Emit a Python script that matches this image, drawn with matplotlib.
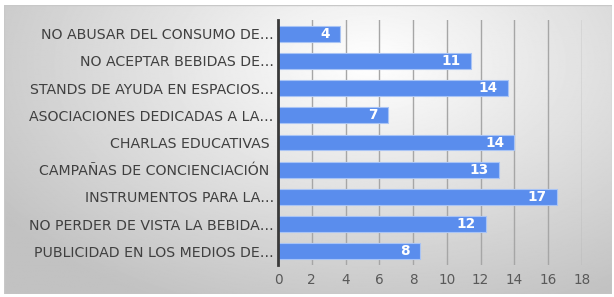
import numpy as np
import matplotlib
matplotlib.use("Agg")
import matplotlib.pyplot as plt
from matplotlib.patches import Rectangle

plt.rcParams['font.family'] = ['DejaVu Sans']

categories = [
    "NO ABUSAR DEL CONSUMO DE…",
    "NO ACEPTAR BEBIDAS DE…",
    "STANDS DE AYUDA EN ESPACIOS…",
    "ASOCIACIONES DEDICADAS A LA…",
    "CHARLAS EDUCATIVAS ",
    "CAMPAÑAS DE CONCIENCIACIÓN ",
    "INSTRUMENTOS PARA LA…",
    "NO PERDER DE VISTA LA BEBIDA…",
    "PUBLICIDAD EN LOS MEDIOS DE…",
]
# bar lengths as drawn, and the data labels shown on them
bar_len = [3.7, 11.4, 13.6, 6.5, 14.0, 13.1, 16.5, 12.3, 8.4]
counts = [4, 11, 14, 7, 14, 13, 17, 12, 8]
xticks = [0, 2, 4, 6, 8, 10, 12, 14, 16, 18]

W, H = 614, 297
fig = plt.figure(figsize=(W / 100, H / 100), dpi=100)
fig.patch.set_facecolor('white')

# chart area background with a soft radial gradient
bg = fig.add_axes([4 / W, 1 - 294 / H, 608 / W, 289 / H])
yy, xx = np.mgrid[0:1:300j, 0:1:600j]
d = np.sqrt(((xx - 0.6) / 0.8) ** 2 + ((yy - 0.2) / 1.0) ** 2)
g = np.clip(1.0 - 0.26 * d, 0.76, 1.0)
bg.imshow(g, cmap='gray', vmin=0, vmax=1, aspect='auto', extent=[0, 1, 0, 1])
bg.add_patch(Rectangle((0, 0), 1, 1, transform=bg.transAxes, fill=False,
                       edgecolor='#c8c8c8', lw=1))
bg.set_axis_off()

ax = fig.add_axes([278 / W, 1 - 265 / H, (582 - 278) / W, (265 - 20) / H])
ax.patch.set_alpha(0)
y = np.arange(len(categories))
bars = ax.barh(y, bar_len, height=0.58, color='#5a8ded',
               edgecolor='#a9c4f5', linewidth=0.8, zorder=3)
ax.set_ylim(len(categories) - 0.5, -0.5)
ax.set_xlim(0, 18)
ax.set_xticks(xticks)
ax.set_yticks(y)
ax.set_yticklabels(categories, fontsize=10.2, color='#404040')
ax.tick_params(axis='x', length=0, labelsize=9.8, labelcolor='#595959', pad=6)
ax.tick_params(axis='y', length=0, pad=3)
ax.grid(axis='x', color='#a6a6a6', lw=1, zorder=0)
for s in ['top', 'right', 'bottom']:
    ax.spines[s].set_visible(False)
ax.spines['left'].set_color('#3a3a3a')
ax.spines['left'].set_linewidth(2)
ax.spines['left'].set_zorder(4)

for b, c in zip(bars, counts):
    ax.text(b.get_width() - 0.6, b.get_y() + b.get_height() / 2, f"{c}",
            ha='right', va='center', color='white', fontsize=9.8,
            fontweight='bold', zorder=5)

fig.savefig('out.png', dpi=100)
